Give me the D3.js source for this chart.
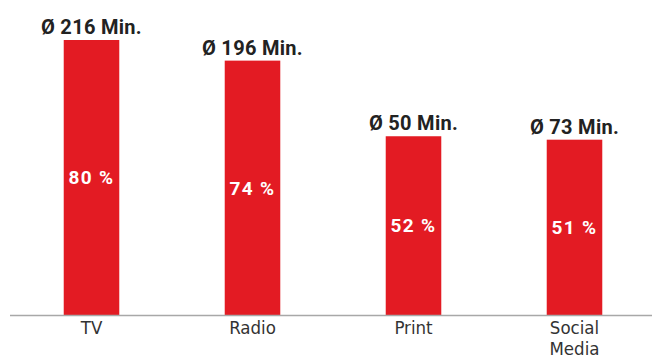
<!DOCTYPE html>
<html>
<head>
<meta charset="utf-8">
<script src="https://cdn.jsdelivr.net/npm/d3@7"></script>
<style>
  body { margin: 0; background: #fff; }
  svg { display: block; }
</style>
</head>
<body>
<svg id="chart" width="652" height="360"></svg>
<script>
const categories = [["TV"], ["Radio"], ["Print"], ["Social", "Media"]];
const shares     = [80, 74, 52, 51];
const minutes    = [216, 196, 50, 73];

const svg    = d3.select("#chart"),
      base   = 315,
      x      = d3.scaleBand().domain(d3.range(categories.length)).range([11, 655])
                 .paddingInner(0.655).paddingOuter(0.3275),
      y      = d3.scaleLinear().domain([0, 80]).range([base, 40]);

// bars
svg.selectAll(".bar")
  .data(shares)
  .enter().append("rect")
    .attr("class", "bar")
    .attr("x", (d, i) => x(i))
    .attr("y", d => y(d))
    .attr("width", x.bandwidth())
    .attr("height", d => base - y(d))
    .attr("fill", "#e31b23");

// axis line
svg.append("line")
  .attr("x1", 10).attr("x2", 652)
  .attr("y1", base + 0.5).attr("y2", base + 0.5)
  .attr("stroke", "#a8a8a8")
  .attr("stroke-width", 1.5);

// percent inside bars
svg.selectAll(".pct")
  .data(shares)
  .enter().append("text")
    .attr("class", "pct")
    .attr("x", (d, i) => x(i) + x.bandwidth() / 2)
    .attr("y", d => (y(d) + base) / 2)
    .attr("dy", "0.36em")
    .attr("text-anchor", "middle")
    .style("font-family", "Roboto, sans-serif")
    .style("font-weight", "700")
    .style("font-size", "19px")
    .style("letter-spacing", "1.3px")
    .style("fill", "#fff")
    .text(d => d + " %");

// average minutes above bars
svg.selectAll(".min")
  .data(minutes)
  .enter().append("text")
    .attr("class", "min")
    .attr("x", (d, i) => x(i) + x.bandwidth() / 2)
    .attr("y", (d, i) => y(shares[i]) - 6)
    .attr("text-anchor", "middle")
    .style("font-family", "Roboto, sans-serif")
    .style("font-weight", "700")
    .style("font-size", "20px")
    .style("letter-spacing", "0.3px")
    .style("fill", "#222")
    .text(d => "Ø " + d + " Min.");

// category labels, one text per line
categories.forEach((lines, i) => {
  lines.forEach((t, j) => {
    svg.append("text")
      .attr("class", "cat")
      .attr("x", x(i) + x.bandwidth() / 2)
      .attr("y", base + 19 + j * 21)
      .attr("text-anchor", "middle")
      .style("font-family", "'Liberation Sans Narrow', 'DejaVu Sans Condensed', sans-serif")
      .style("font-size", "18.5px")
      .style("fill", "#333")
      .text(t);
  });
});
</script>
</body>
</html>
